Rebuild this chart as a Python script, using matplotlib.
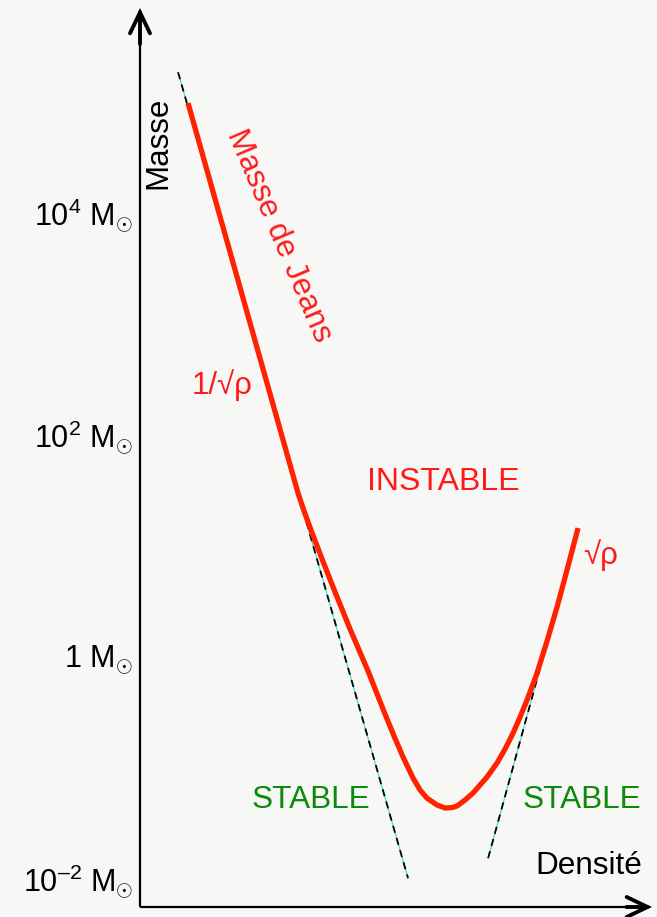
import matplotlib
matplotlib.use("Agg")
import matplotlib.pyplot as plt

plt.rcParams['font.family'] = ['Liberation Sans', 'DejaVu Sans']
plt.rcParams['mathtext.fontset'] = 'custom'
plt.rcParams['mathtext.rm'] = 'Liberation Sans'
plt.rcParams['mathtext.it'] = 'Liberation Sans:italic'
plt.rcParams['mathtext.bf'] = 'Liberation Sans:bold'

# Data: x = log10(density) (arbitrary units), y = log10(M / M_sun)
jeans_logrho = [3.038, 10.000, 10.316, 10.633, 11.013, 11.519, 12.215, 13.291, 14.430,
                15.506, 16.076, 16.646, 17.278, 17.722, 18.165, 18.797, 19.304, 19.747,
                20.063, 20.570, 21.076, 21.962, 22.595, 23.101, 23.608, 24.051, 24.494,
                25.127, 25.759, 26.392, 27.089, 27.722]
jeans_logm = [4.973, 1.459, 1.324, 1.198, 1.054, 0.865, 0.613, 0.234, -0.144,
              -0.532, -0.730, -0.919, -1.108, -1.216, -1.290, -1.351, -1.378, -1.374,
              -1.360, -1.306, -1.243, -1.099, -0.973, -0.847, -0.703, -0.559, -0.405,
              -0.162, 0.126, 0.432, 0.802, 1.144]

left_asym_logrho = [2.41, 16.96]
left_asym_logm = [5.25, -2.01]
right_asym_logrho = [22.03, 26.58]
right_asym_logm = [-1.83, 0.54]

ytick_vals = [4, 2, 0, -2]
ytick_labels = ['10$^{4}$ M$_{\\odot}$', '10$^{2}$ M$_{\\odot}$',
                '1 M$_{\\odot}$', '10$^{\u2013 2}$ M$_{\\odot}$']

W, H = 657, 917
fig = plt.figure(figsize=(W / 100, H / 100), dpi=100)
bg = '#f7f7f5'
fig.patch.set_facecolor(bg)
ax = fig.add_axes([140 / W, 10 / H, 512 / W, 899 / H])
ax.set_facecolor(bg)
ax.set_xlim(0, 32.4)
ax.set_ylim(-2.27, 5.829)
for s in ax.spines.values():
    s.set_visible(False)
ax.set_xticks([])
ax.set_yticks(ytick_vals)
ax.set_yticklabels(ytick_labels, fontsize=22)
ax.tick_params(axis='y', length=0, pad=5)

# Axes shafts
ax.plot([0, 0], [0, 0.995], transform=ax.transAxes, color='black', lw=1.6,
        clip_on=False, zorder=5, solid_capstyle='butt')
ax.plot([0, 0.995], [0, 0], transform=ax.transAxes, color='black', lw=1.6,
        clip_on=False, zorder=5, solid_capstyle='butt')
# Arrow heads (open chevrons)
head_kw = dict(arrowstyle='->,head_length=0.75,head_width=0.36', lw=2.8,
               color='black', shrinkA=0, shrinkB=0, mutation_scale=20,
               joinstyle='miter', capstyle='round')
ax.annotate('', xy=(0, 1), xytext=(0, 0.96), xycoords='axes fraction',
            textcoords='axes fraction', arrowprops=head_kw)
ax.annotate('', xy=(1, 0), xytext=(0.95, 0), xycoords='axes fraction',
            textcoords='axes fraction', arrowprops=head_kw)

# Asymptotes: cyan thin line under black dashes
for xs, ys in [(left_asym_logrho, left_asym_logm), (right_asym_logrho, right_asym_logm)]:
    ax.plot(xs, ys, color='#40e0d0', lw=0.9, zorder=2)
    ax.plot(xs, ys, color='black', lw=1.3, dashes=(4, 3), zorder=3)

# Jeans mass curve
ax.plot(jeans_logrho, jeans_logm, color='#ff2200', lw=3.8, solid_capstyle='butt',
        solid_joinstyle='round', zorder=4)

red = '#ff1a1a'
green = '#0b8a0b'

def ftext(x, y, s, **kw):
    fig.text(x / W, 1 - y / H, s, ha='center', va='center', **kw)

ftext(158, 143, 'Masse', fontsize=22.5, rotation=90, color='black')
ftext(589, 866, 'Densité', fontsize=22.7, color='black')
ftext(279, 236, 'Masse de Jeans', fontsize=22.5, rotation=-67, color=red,
      rotation_mode='anchor')
ftext(222, 385, '1/√ρ', fontsize=22.5, color=red)
ftext(601, 555, '√ρ', fontsize=22.5, color=red)
ftext(443, 482, 'INSTABLE', fontsize=23, color=red)
ftext(311, 800, 'STABLE', fontsize=22.7, color=green)
ftext(582, 800, 'STABLE', fontsize=22.7, color=green)

fig.savefig('out.png', dpi=100, facecolor=bg)
